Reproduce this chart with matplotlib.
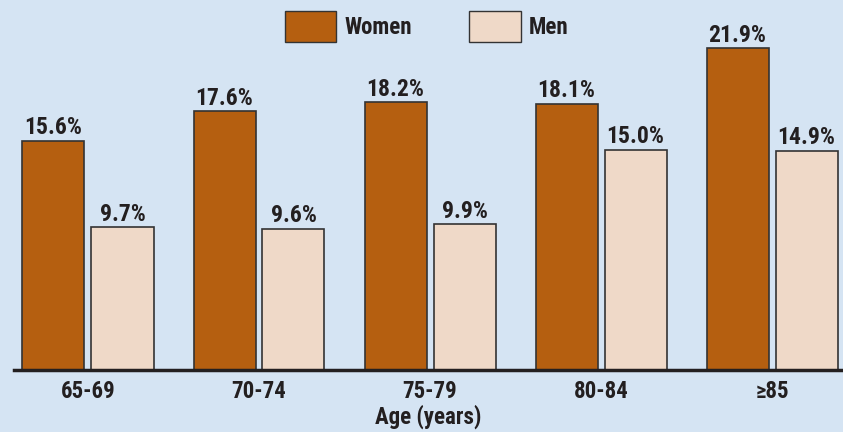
import matplotlib.pyplot as plt
import numpy as np
from matplotlib.patches import Patch
from matplotlib import font_manager

ages = ['65-69', '70-74', '75-79', '80-84', '\u226585']
women = [15.6, 17.6, 18.2, 18.1, 21.9]
men = [9.7, 9.6, 9.9, 15.0, 14.9]

bg = '#d5e4f3'
c_women = '#b55f10'
c_men = '#efd9c8'
edge = '#333333'
txt = '#231f20'

# prefer a condensed face if one is installed
names = {f.name for f in font_manager.fontManager.ttflist}
fams = [n for n in ['Liberation Sans Narrow', 'DejaVu Sans Condensed', 'Roboto Condensed',
                    'Open Sans Condensed', 'Arial Narrow'] if n in names] + ['DejaVu Sans']
plt.rcParams['font.family'] = fams
plt.rcParams['font.weight'] = 'bold'
fs = 16.5

fig = plt.figure(figsize=(8.43, 4.32), dpi=100, facecolor=bg)
ax = fig.add_axes([14 / 843, 62 / 432, 829 / 843, 370 / 432])
ax.set_facecolor(bg)

x = np.arange(len(ages))
w = 62 / 171
off = 34.5 / 171
b1 = ax.bar(x - off, women, w, color=c_women, edgecolor=edge, linewidth=1.2)
b2 = ax.bar(x + off, men, w, color=c_men, edgecolor=edge, linewidth=1.2)

for bars in (b1, b2):
    for b in bars:
        ax.text(b.get_x() + b.get_width() / 2, b.get_height() + 0.1,
                f'{b.get_height():.1f}%', ha='center', va='bottom',
                fontsize=17, fontweight='bold', color=txt)

ax.set_xlim((14 - 88) / 171, (843 - 88) / 171)
ax.set_ylim(0, 370 / 14.7)
ax.set_xticks(x)
ax.set_xticklabels(ages, fontsize=fs, fontweight='bold', color=txt)
ax.tick_params(axis='x', length=0, pad=7)
ax.set_yticks([])
for s in ['top', 'left', 'right']:
    ax.spines[s].set_visible(False)
ax.spines['bottom'].set_linewidth(2.5)
ax.spines['bottom'].set_color(txt)
ax.set_xlabel('Age (years)', fontsize=fs, fontweight='bold', color=txt, labelpad=1.5)

handles = [Patch(facecolor=c_women, edgecolor=edge, label='Women'),
           Patch(facecolor=c_men, edgecolor=edge, label='Men')]
leg = ax.legend(handles=handles, ncol=2, loc='upper center', bbox_to_anchor=(0.498, 1.0),
                frameon=False, prop={'family': fams, 'weight': 'bold', 'size': fs},
                handlelength=2.25, handleheight=1.7, handletextpad=0.36,
                columnspacing=2.5, borderaxespad=0.1)
for t in leg.get_texts():
    t.set_color(txt)

fig.savefig('out.png', dpi=100, facecolor=bg)
